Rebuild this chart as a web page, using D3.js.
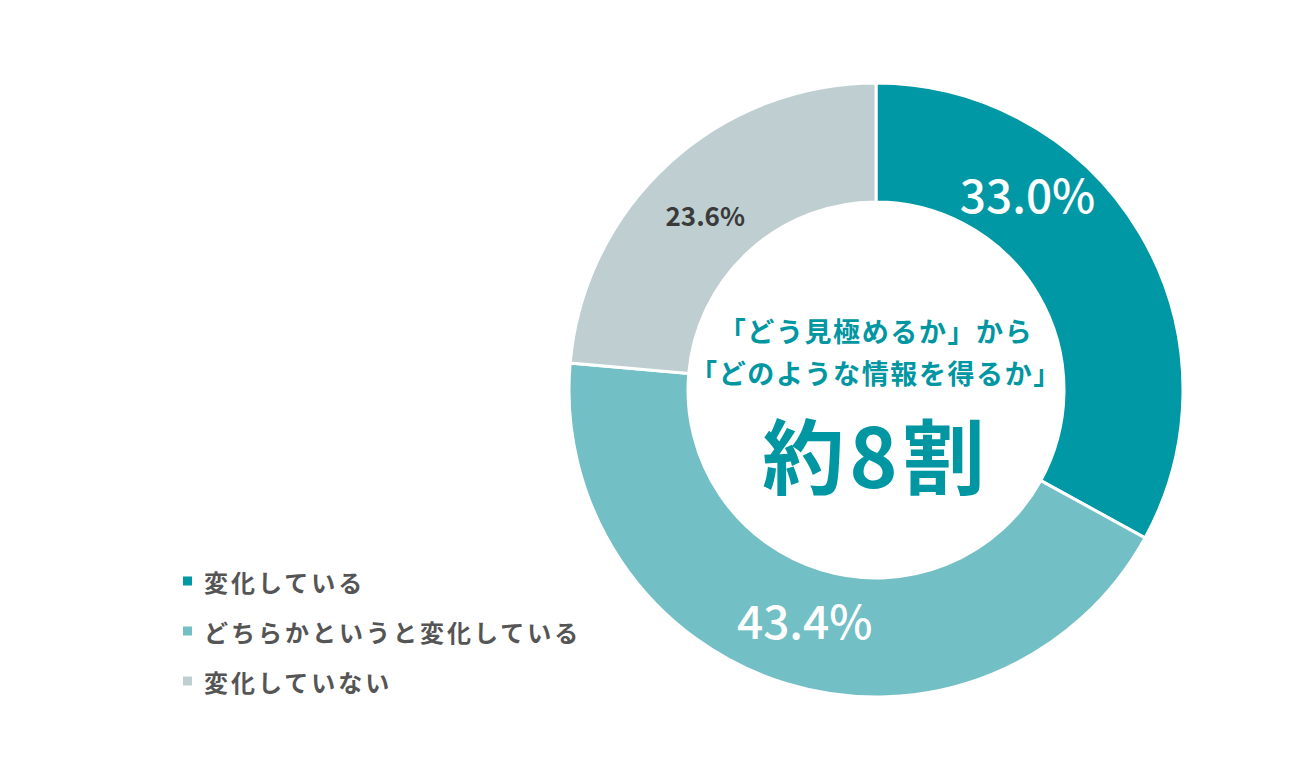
<!DOCTYPE html>
<html>
<head>
<meta charset="utf-8">
<script src="https://cdn.jsdelivr.net/npm/d3@7"></script>
<style>
  body { margin: 0; background: #fff; }
  svg { display: block; font-family: "Noto Sans CJK JP", "Noto Sans", sans-serif; }
</style>
</head>
<body>
<div id="chart"></div>
<script>
// data
const categories = ["変化している", "どちらかというと変化している", "変化していない"];
const values = [33.0, 43.4, 23.6];
const colors = ["#0098a5", "#72bfc6", "#bfcfd1"];
const centerLines = ["「どう見極めるか」から", "「どのような情報を得るか」"];
const centerBig = "約8割";

const width = 1300;
const height = 780;
const cx = 876, cy = 390;
const outerR = 307, innerR = 188;

const svg = d3.select("#chart")
  .append("svg")
  .attr("width", width)
  .attr("height", height);

const data = categories.map((c, i) => ({ name: c, value: values[i], color: colors[i] }));

const pie = d3.pie()
  .value(d => d.value)
  .sort(null);

const arc = d3.arc()
  .innerRadius(innerR)
  .outerRadius(outerR);

const labelArc = d3.arc()
  .innerRadius(245)
  .outerRadius(245);

const arcs = pie(data);

const g = svg.append("g")
  .attr("transform", `translate(${cx},${cy})`);

g.selectAll("path")
  .data(arcs)
  .enter()
  .append("path")
    .attr("d", arc)
    .attr("fill", d => d.data.color)
    .attr("stroke", "#fff")
    .attr("stroke-width", 3);

// percent labels (first label sits a bit earlier along its slice)
const labelStyle = [
  { size: 46, fill: "#fff", weight: 500, shift: -0.37, dy: -4 },
  { size: 46, fill: "#fff", weight: 500, shift: 0, dy: -5 },
  { size: 26, fill: "#3a3a3a", weight: 700, shift: -0.03, dy: 0 }
];

g.selectAll("text.pct")
  .data(arcs)
  .enter()
  .append("text")
    .attr("class", "pct")
    .attr("transform", (d, i) => {
      const mid = (d.startAngle + d.endAngle) / 2 + labelStyle[i].shift;
      const p = labelArc.centroid({ startAngle: mid, endAngle: mid });
      return `translate(${p[0]},${p[1] + labelStyle[i].dy})`;
    })
    .attr("text-anchor", "middle")
    .attr("dominant-baseline", "central")
    .attr("font-size", (d, i) => labelStyle[i].size)
    .attr("font-weight", (d, i) => labelStyle[i].weight)
    .attr("fill", (d, i) => labelStyle[i].fill)
    .text(d => d.data.value.toFixed(1) + "%");

// center text
g.selectAll("text.center")
  .data(centerLines)
  .enter()
  .append("text")
    .attr("class", "center")
    .attr("x", 0)
    .attr("y", (d, i) => -60 + i * 42)
    .attr("text-anchor", "middle")
    .attr("dominant-baseline", "central")
    .attr("font-size", 27)
    .attr("font-weight", 700)
    .attr("letter-spacing", 1.6)
    .attr("fill", "#0096a2")
    .text(d => d);

g.append("text")
  .attr("x", 0)
  .attr("y", 62)
  .attr("text-anchor", "middle")
  .attr("dominant-baseline", "central")
  .attr("font-size", 82)
  .attr("font-weight", 700)
  .attr("letter-spacing", 5)
  .attr("fill", "#0096a2")
  .text(centerBig);

// legend
const legend = svg.append("g")
  .attr("transform", "translate(183, 581)");

data.forEach((d, i) => {
  legend.append("rect")
    .attr("x", 0)
    .attr("y", i * 50 - 4.5)
    .attr("width", 9)
    .attr("height", 9)
    .attr("fill", d.color);
  legend.append("text")
    .attr("x", 21)
    .attr("y", i * 50)
    .attr("dominant-baseline", "central")
    .attr("font-size", 24)
    .attr("font-weight", 700)
    .attr("letter-spacing", 3)
    .attr("fill", "#555")
    .text(d.name);
});
</script>
</body>
</html>
